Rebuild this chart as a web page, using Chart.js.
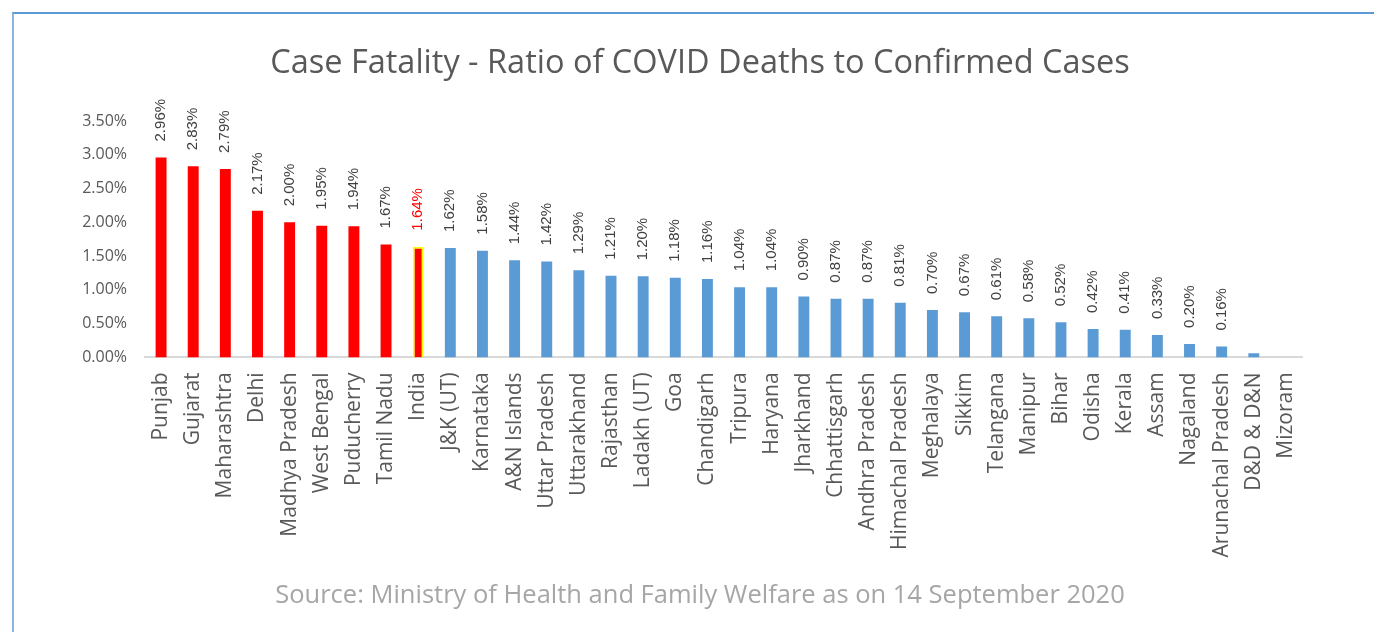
<!DOCTYPE html>
<html>
<head>
<meta charset="utf-8">
<title>Case Fatality</title>
<script src="https://cdn.jsdelivr.net/npm/chart.js@4.4.0/dist/chart.umd.min.js"></script>
<style>
    html, body { margin: 0; padding: 0; background: #fff; overflow: hidden; }
    #wrap { position: relative; width: 1374px; height: 632px; }
    #frame {
        position: absolute; left: 12px; top: 12px; right: -10px; bottom: -10px;
        border-left: 2px solid #8db4e2; border-top: 2px solid #5b9bd5;
    }
    #chart { position: absolute; left: 0; top: 0; }
</style>
</head>
<body>
<div id="wrap">
    <div id="frame"></div>
    <canvas id="chart" width="1374" height="632"></canvas>
</div>
<script>
// States / UTs, sorted by case fatality ratio (%)
const states = ["Punjab", "Gujarat", "Maharashtra", "Delhi", "Madhya Pradesh", "West Bengal", "Puducherry",
    "Tamil Nadu", "India", "J&K (UT)", "Karnataka", "A&N Islands", "Uttar Pradesh", "Uttarakhand", "Rajasthan",
    "Ladakh (UT)", "Goa", "Chandigarh", "Tripura", "Haryana", "Jharkhand", "Chhattisgarh", "Andhra Pradesh",
    "Himachal Pradesh", "Meghalaya", "Sikkim", "Telangana", "Manipur", "Bihar", "Odisha", "Kerala", "Assam",
    "Nagaland", "Arunachal Pradesh", "D&D & D&N", "Mizoram"]
const fatality = [2.96, 2.83, 2.79, 2.17, 2.00, 1.95, 1.94, 1.67, 1.64, 1.62, 1.58, 1.44, 1.42, 1.29, 1.21,
    1.20, 1.18, 1.16, 1.04, 1.04, 0.90, 0.87, 0.87, 0.81, 0.70, 0.67, 0.61, 0.58, 0.52, 0.42, 0.41, 0.33,
    0.20, 0.16, 0.06, 0.00]
// above the national figure (and India itself) shown in red
const aboveNational = ["Punjab", "Gujarat", "Maharashtra", "Delhi", "Madhya Pradesh", "West Bengal",
    "Puducherry", "Tamil Nadu", "India"]
const noLabel = ["D&D & D&N", "Mizoram"]
const yTicks = [0, 0.5, 1, 1.5, 2, 2.5, 3, 3.5]

const RED = "#ff0000"
const BLUE = "#5b9bd5"

// value labels drawn vertically above each bar
const barLabels = {
    id: "barLabels",
    afterDatasetsDraw(chart) {
        const ctx = chart.ctx
        const meta = chart.getDatasetMeta(0)
        ctx.save()
        ctx.font = "15px 'Liberation Sans', Arial, sans-serif"
        ctx.textAlign = "left"
        ctx.textBaseline = "middle"
        meta.data.forEach((bar, i) => {
            if (noLabel.includes(states[i])) return
            ctx.save()
            ctx.translate(bar.x, bar.y - 16)
            ctx.rotate(-Math.PI / 2)
            ctx.fillStyle = states[i] === "India" ? RED : "#404040"
            ctx.fillText(fatality[i].toFixed(2) + "%", 0, 0)
            ctx.restore()
        })
        ctx.restore()
    },
}

new Chart(document.getElementById("chart"), {
    type: "bar",
    data: {
        labels: states,
        datasets: [
            {
                data: fatality,
                backgroundColor: states.map((s) => (aboveNational.includes(s) ? RED : BLUE)),
                borderColor: states.map((s) => (s === "India" ? "#ffff00" : "rgba(0,0,0,0)")),
                borderWidth: states.map((s) => (s === "India" ? 2 : 0)),
                barPercentage: 0.34,
                categoryPercentage: 1,
            },
        ],
    },
    options: {
        responsive: false,
        animation: false,
        layout: { padding: { left: 78, right: 52, top: 0, bottom: 0 } },
        plugins: {
            legend: { display: false },
            tooltip: { enabled: false },
            title: {
                display: true,
                text: "Case Fatality - Ratio of COVID Deaths to Confirmed Cases",
                color: "#595959",
                font: { family: "'Open Sans', sans-serif", size: 32.5, weight: "normal" },
                padding: { top: 44, bottom: 38 },
            },
            subtitle: {
                display: true,
                position: "bottom",
                text: "Source: Ministry of Health and Family Welfare as on 14 September 2020",
                color: "#a6a6a6",
                font: { family: "'Open Sans', sans-serif", size: 25.5, weight: "normal" },
                padding: { top: 13, bottom: 21 },
            },
        },
        scales: {
            x: {
                grid: { display: false, drawTicks: false },
                border: { display: true, color: "#d9d9d9", width: 2 },
                ticks: {
                    color: "#595959",
                    font: { family: "'Open Sans', sans-serif", size: 21 },
                    minRotation: 90,
                    maxRotation: 90,
                    autoSkip: false,
                    padding: 15,
                },
                afterFit: (scale) => { scale.height = 210 },
            },
            y: {
                min: 0,
                max: 3.5,
                grid: { display: false, drawTicks: false },
                border: { display: false },
                afterBuildTicks: (scale) => { scale.ticks = yTicks.map((v) => ({ value: v })) },
                ticks: {
                    color: "#595959",
                    font: { family: "'Open Sans', sans-serif", size: 16 },
                    padding: 18,
                    callback: (value) => value.toFixed(2) + "%",
                },
                afterFit: (scale) => { scale.width = 67 },
            },
            // empty strip on the right so the plot ends where the reference does
            yRight: {
                position: "right",
                grid: { display: false, drawTicks: false },
                border: { display: false },
                ticks: { display: false },
                afterFit: (scale) => { scale.width = 20 },
            },
        },
    },
    plugins: [barLabels],
})
</script>
</body>
</html>
